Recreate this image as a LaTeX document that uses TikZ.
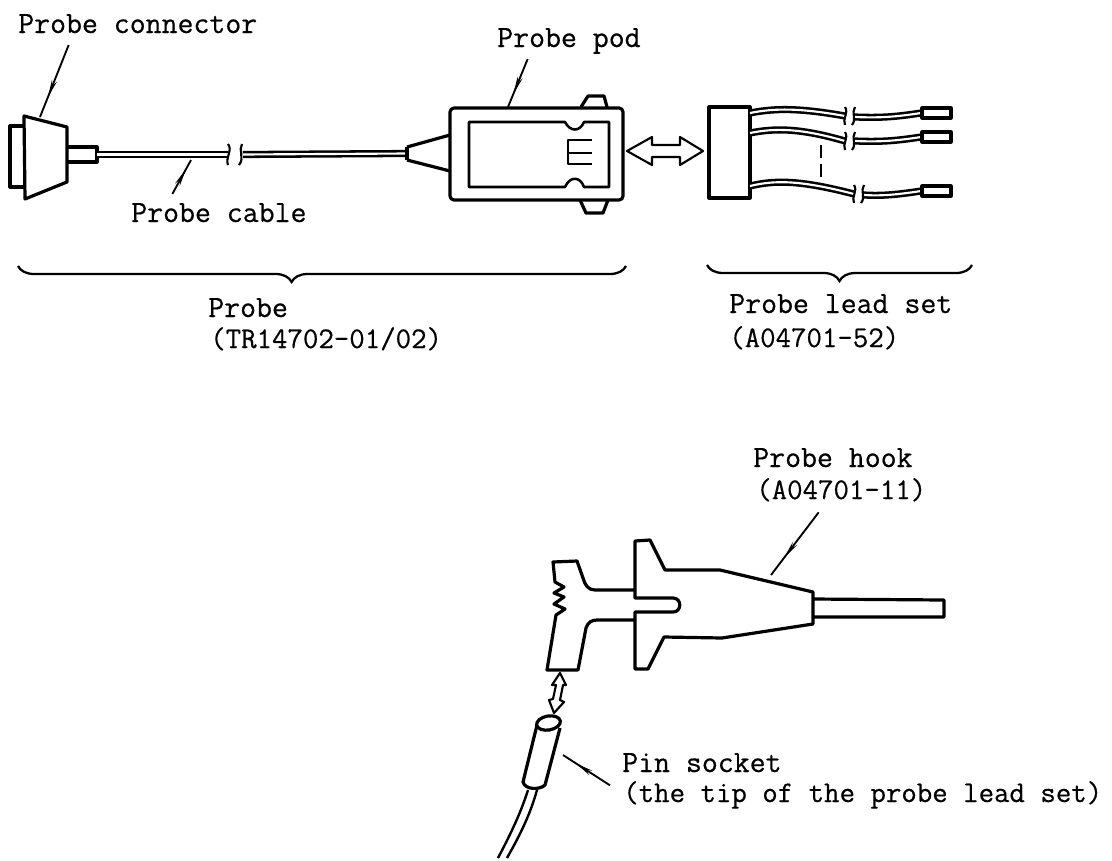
\documentclass[tikz,border=0pt]{standalone}
\usepackage{fontspec}
\setmonofont[FakeBold=0.5]{Latin Modern Mono}
\usepackage{xcolor}
\usepackage{tikz}
\usetikzlibrary{decorations.pathreplacing, decorations.markings, arrows.meta}
\tikzset{
	part/.style={line width=2.4pt, line join=round},
	wire/.style={line width=1.9pt, double, double distance=1.6pt},
	cut/.style={line width=1.6pt},
	lbl/.style={font=\fontsize{23.2}{24}\selectfont\ttfamily, anchor=base west, inner sep=0pt},
	lblsm/.style={lbl, font=\fontsize{22.5}{24}\selectfont\ttfamily},
	leader/.style={line width=1.4pt, postaction={decorate}, decoration={markings,
		mark=at position 0.72 with {\arrow{Stealth[length=13pt, width=4pt]}}}},
	under/.style={line width=1.7pt, decorate, decoration={brace, mirror, amplitude=12pt, aspect=#1}},
}

\begin{document}
\begin{tikzpicture}[x=0.75pt, y=-0.75pt]
	\useasboundingbox (0,0) rectangle (1112,860);

	% connector
	\draw[part] (24,126) -- (10,126) -- (10,187) -- (25,187);
	\draw[part] (24,116) -- (67,127) -- (67,182) -- (25,199) -- cycle;
	\draw[part] (67,147) -- (97,147) -- (97,162) -- (67,162);
	\draw[wire] (97,154.5) -- (228,154.5);
	\draw[wire] (243,154.5) -- (407,153.5);

	% pod
	\draw[part] (407,147) -- (450,135);
	\draw[part] (407,160) -- (450,171);
	\draw[part] (407,147) -- (407,160);
	\draw[part, rounded corners=3pt] (450,108) rectangle (623,200);
	\draw[part] (581,107) -- (588,96) -- (604,96) -- (607,107);
	\draw[part] (580,200) -- (586,213) -- (603,213) -- (608,200);
	\draw[part, line width=1.9pt] (469,122) -- (565,122) .. controls (570,132) and (580,132) .. (584,122)
		-- (609,122) -- (609,187) -- (584,187) .. controls (580,176) and (570,176) .. (565,187)
		-- (469,187) -- cycle;
	\draw[part, line width=1.7pt] (592,140) -- (568,140) -- (568,164) -- (592,164);
	\draw[part, line width=1.7pt] (568,153) -- (592,153);

	% between pod and lead set
	\draw[line width=1.6pt, line join=round] (627,151) -- (652,137) -- (652,145) -- (680,145) -- (680,137)
		-- (703,151) -- (680,165) -- (680,157) -- (652,157) -- (652,165) -- cycle;

	% lead set
	\draw[part] (709,107) rectangle (750,198);
	\foreach \ya/\yb/\yc/\xc/\yd/\ye in {113/108/116/845/117/113, 133/128/141/845/141/137, 186/180/194/854/195/191}{
		\draw[wire] (750,\ya) .. controls (775,\yb) and (800,\yb) .. (\xc,\yc);
		\draw[wire] (\xc+10,\yd) .. controls (880,\yd+1) and (895,\yd) .. (921,\ye);
		\draw[part] (922,\ye-5) rectangle (951,\ye+5);
		\draw[cut] (\xc,\yc-9) .. controls (\xc+4,\yc-3) and (\xc-3,\yc+3) .. (\xc,\yc+9);
		\draw[cut] (\xc+10,\yc-9) .. controls (\xc+6,\yc-3) and (\xc+12,\yc+3) .. (\xc+7,\yc+9);
	}
	\draw[part, dash pattern=on 10pt off 4pt, line width=1.6pt] (821,145) -- (821,177);
	\draw[cut] (228,144) .. controls (233,150) and (225,158) .. (228,165);
	\draw[cut] (242,144) .. controls (238,150) and (245,158) .. (239,165);

	% hook
	\draw[part] (635,590) -- (595,590) .. controls (588,590) and (585,585) .. (583,578) -- (577,561) -- (553,562)
		-- (555,582) -- (564,587) -- (554,593) -- (564,597) -- (554,604) -- (565,609) -- (556,615) -- (547,670)
		-- (578,670) -- (586,628) .. controls (588,622) and (592,620) .. (597,620) -- (635,620);
	\draw[part] (635,598) -- (635,541) -- (650,540) -- (665,570) -- (720,570) -- (813,592) -- (813,624)
		-- (722,638) -- (664,637) -- (648,669) -- (635,669) -- (635,612) -- (673,612)
		.. controls (682,612) and (682,598) .. (673,598) -- cycle;
	\draw[part] (813,599) -- (944,600) -- (944,617) -- (813,617);

	% pin socket
	\draw[line width=1.6pt, line join=round] (560,673) -- (552,685) -- (556,685) -- (553,699) -- (549,700) -- (554,713)
		-- (564,702) -- (560,700) -- (563,685) -- (566,685) -- cycle;
	\draw[part] (548.5,723) ellipse [x radius=12, y radius=7, rotate=10];
	\draw[part] (537,725) -- (523,782) .. controls (525,790) and (540,790) .. (545,785) -- (560,728);
	\draw[part, line width=1.8pt] (528,790) .. controls (520,815) and (510,835) .. (498,858);
	\draw[part, line width=1.8pt] (537,790) .. controls (530,815) and (520,835) .. (507,858);

	% texts
	\node[lbl] (lblconnector) at (18,33) {Probe connector};
	\node[lbl] (lblcable) at (131,222) {Probe cable};
	\node[lbl] (lblpod) at (497,47) {Probe pod};
	\node[lbl] (lblprobe) at (208,317) {Probe};
	\node[lblsm] (lblprobeno) at (210,348) {(TR14702-01/02)};
	\node[lbl] (lblset) at (729,313) {Probe lead set};
	\node[lblsm] (lblsetno) at (729,347) {(A04701-52)};
	\node[lbl] (lblhook) at (753,467) {Probe hook};
	\node[lblsm] (lblhookno) at (756,499) {(A04701-11)};
	\node[lbl] (lblpin) at (622,772) {Pin socket};
	\node[lblsm] (lbltip) at (623,802) {(the tip of the probe lead set)};

	% leaders
	\coordinate (endconnector) at (40,117);
	\coordinate (endcable) at (191,160);
	\coordinate (endpod) at (508,107);
	\coordinate (endhook) at (771,575);
	\coordinate (endpin) at (563,755);
	\draw[leader] ([xshift=38pt,yshift=-9pt]lblconnector.base west) -- (endconnector);
	\draw[leader] ([xshift=31pt,yshift=21pt]lblcable.base west) -- (endcable);
	\draw[leader] ([xshift=23pt,yshift=-9pt]lblpod.base west) -- (endpod);
	\draw[leader] ([xshift=47pt,yshift=-10pt]lblhookno.base west) -- (endhook);
	\draw[leader] ([xshift=-9pt,yshift=-10pt]lblpin.base west) -- (endpin);

	% braces
	\coordinate (probeleft) at (18,266);
	\coordinate (proberight) at (626,266);
	\coordinate (setleft) at (707,265);
	\coordinate (setright) at (972,265);
	\draw[under=0.45] (probeleft) -- (proberight);
	\draw[under=0.5] (setleft) -- (setright);
\end{tikzpicture}
\end{document}
